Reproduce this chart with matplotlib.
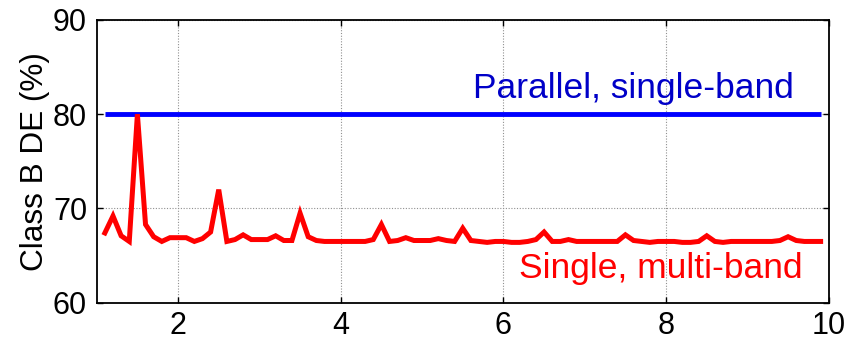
import numpy as np
import matplotlib
matplotlib.use("Agg")
import matplotlib.pyplot as plt

plt.rcParams['font.family'] = ['Liberation Sans', 'DejaVu Sans']

x_ratio = [round(1.1 + 0.1 * i, 1) for i in range(89)]
single_multiband = [
    67.4, 69.2, 67.1, 66.5, 80.0, 68.3, 67.0, 66.5, 66.9,
    66.9, 66.9, 66.5, 66.8, 67.5, 72.0, 66.5, 66.7, 67.2, 66.7,
    66.7, 66.7, 67.1, 66.6, 66.6, 69.5, 67.0, 66.6, 66.5, 66.5,
    66.5, 66.5, 66.5, 66.5, 66.7, 68.3, 66.5, 66.6, 66.9, 66.6,
    66.6, 66.6, 66.8, 66.6, 66.5, 67.9, 66.6, 66.5, 66.4, 66.5,
    66.5, 66.4, 66.4, 66.5, 66.7, 67.5, 66.5, 66.5, 66.7, 66.5,
    66.5, 66.5, 66.5, 66.5, 66.5, 67.2, 66.6, 66.5, 66.4, 66.5,
    66.5, 66.5, 66.4, 66.4, 66.5, 67.1, 66.5, 66.4, 66.5, 66.5,
    66.5, 66.5, 66.5, 66.5, 66.6, 67.0, 66.6, 66.5, 66.5, 66.5,
]
parallel_singleband = [80.0] * len(x_ratio)

xticks = [2, 4, 6, 8, 10]
yticks = [60, 70, 80, 90]

fig = plt.figure(figsize=(8.5, 3.43), dpi=100)
ax = fig.add_axes([0.1138, 0.1175, 0.975 - 0.1138, 0.9417 - 0.1175])

ax.plot(x_ratio, parallel_singleband, color='#0000FF', lw=3.5, solid_capstyle='butt')
ax.plot(x_ratio, single_multiband, color='#FF0000', lw=3.6, solid_joinstyle='miter')

ax.set_xlim(1, 10)
ax.set_ylim(60, 90)
ax.set_xticks(xticks)
ax.set_yticks(yticks)
ax.grid(True, color='#909090', linestyle=(0, (1, 1.5)), lw=0.8)
ax.tick_params(direction='in', length=4, width=1, labelsize=22, top=True, right=True)
ax.tick_params(axis='x', pad=6)
ax.tick_params(axis='y', pad=7)
for s in ax.spines.values():
    s.set_linewidth(1.3)

ax.set_ylabel('Class B DE (%)', fontsize=22.7, labelpad=2)

ax.text(7.6, 81.72, 'Parallel, single-band', color='#0000C8', fontsize=25.5,
        ha='center', va='baseline')
ax.text(7.94, 62.62, 'Single, multi-band', color='#FF0000', fontsize=25.5,
        ha='center', va='baseline')

fig.savefig('out.png', dpi=100)
